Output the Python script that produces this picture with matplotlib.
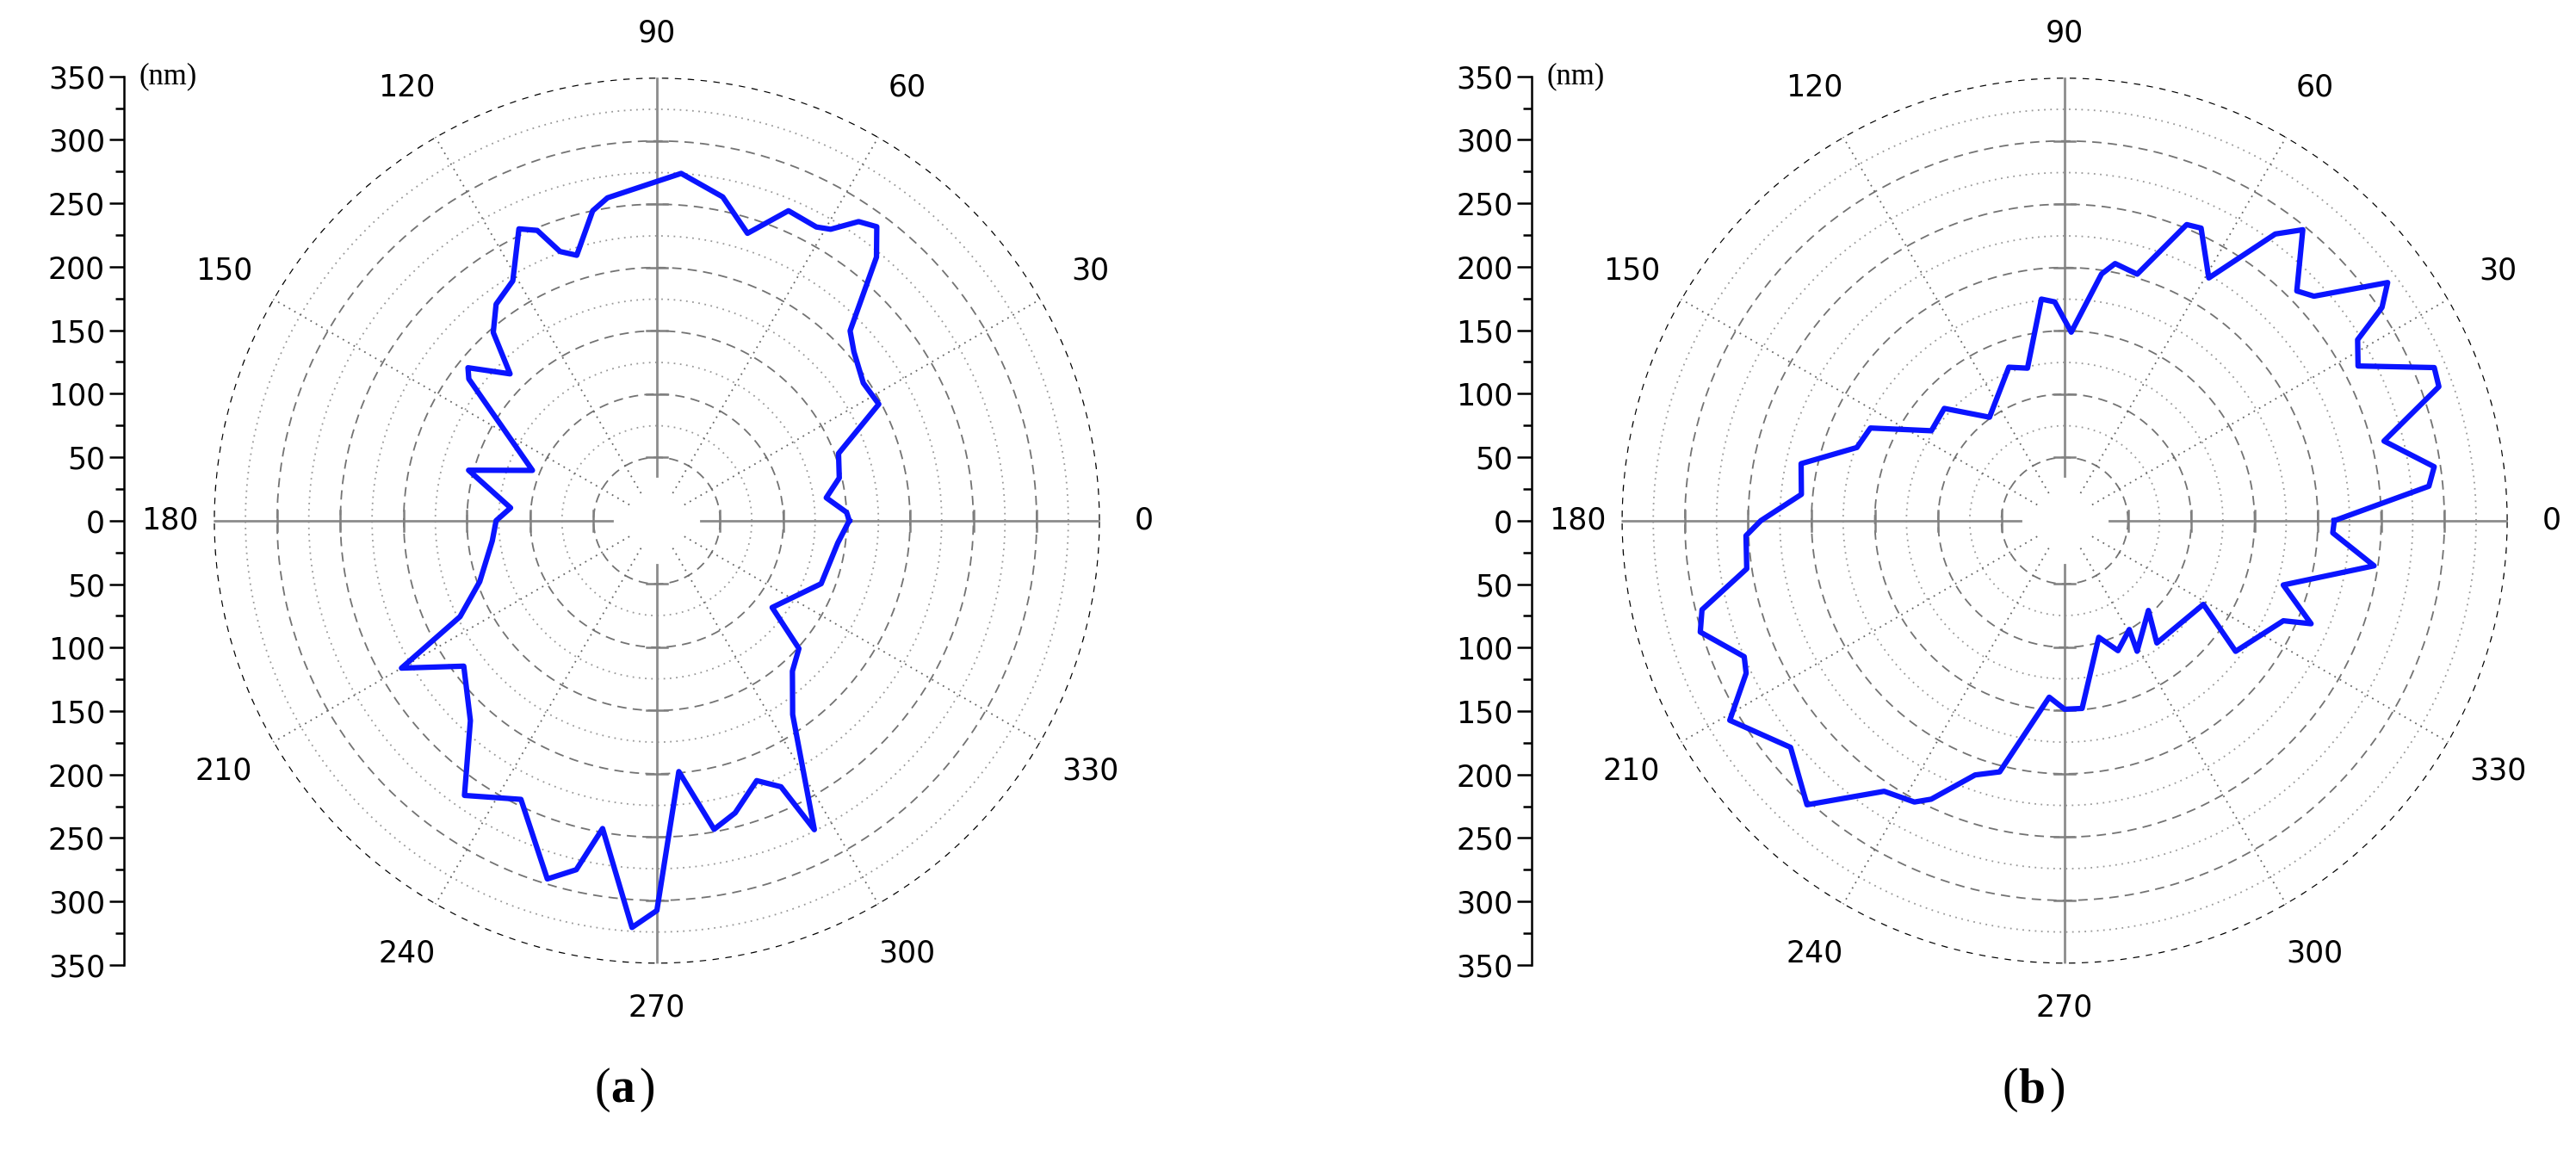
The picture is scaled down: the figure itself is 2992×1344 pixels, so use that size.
import numpy as np
import matplotlib
matplotlib.use("Agg")
import matplotlib.pyplot as plt

ang_a = [0, 2.5, 7.7, 13.2, 20.3, 27.7, 33.7, 40.6, 44.5, 50.2, 53.2, 56, 59.2, 61.5, 67, 72.5, 78.5, 86, 90,
         98.7, 101.7, 106.8, 109.8, 112.4, 115.3, 121, 126.6, 131, 135, 141, 143, 158, 165, 175, 180,
         187, 199, 206, 210, 217, 227, 235, 244, 253, 257, 260, 266.5, 270, 275, 280.5,
         285, 291, 295, 297, 305, 312, 318, 323, 339, 353, 360]
r_a = [152, 150, 135, 148, 153, 198, 196, 205, 214, 271, 290, 285, 268, 264, 266, 238, 261, 275, 268,
       258, 250, 219, 226, 248, 255, 221, 213, 197, 164, 192, 186, 106, 154, 116, 127,
       131, 148, 173, 233, 191, 216, 265, 245, 296, 283, 247, 322, 308, 199, 248,
       239, 220, 232, 274, 187, 160, 151, 114, 139, 144, 152]

ang_b = [0, 5.4, 8.3, 14, 19.7, 22.5, 27.8, 31.7, 33.9, 36.4, 42, 44.7, 50.7, 53.7, 59.3, 65, 67.6, 73.6, 78.9,
         81.5, 88, 92.6, 96, 103.7, 110, 126, 137, 146, 154.5, 160.6, 167.8, 174.3, 180, 182.7, 188.6, 193.8,
         197, 203, 205.6, 210.8, 219.6, 227.8, 236.3, 241.9, 244.4, 250.6, 255.5, 265, 270, 275.3, 286.3,
         292.3, 300.7, 299, 313, 307, 328.9, 322.6, 335.4, 337.3, 343.6, 351.7, 357.4, 360]
r_b = [213, 289, 295, 260, 314, 316, 262, 272, 302, 317, 265, 258, 297, 281, 223, 255, 253, 203, 207,
       197, 149, 173, 176, 124, 129, 101, 130, 127, 170, 174, 213, 209, 240, 252, 254, 295,
       301, 275, 279, 308, 281, 303, 257, 252, 244, 213, 205, 140, 149, 149, 96,
       111, 100, 118, 97, 121, 128, 170, 190, 211, 180, 247, 212, 213]

ang_labels = [0, 30, 60, 90, 120, 150, 180, 210, 240, 270, 300, 330]
r_ticks = [0, 50, 100, 150, 200, 250, 300, 350]

W, H = 29.92, 13.44
fig = plt.figure(figsize=(W, H), dpi=100)
FS = 25

def panel(cx, angs, rs, letter):
    rw = 0.172
    rh = 0.384
    cy = 0.55
    ax = fig.add_axes([cx - rw, cy - rh, 2 * rw, 2 * rh], projection='polar')
    ax.set_ylim(0, 350)
    ax.grid(False)
    ax.set_xticks([]); ax.set_yticks([])
    ax.spines['polar'].set_visible(False)
    ax.patch.set_alpha(0)
    th = np.linspace(0, 2 * np.pi, 400)
    for rr in range(50, 350, 25):
        ls = (0, (6, 4)) if rr % 50 == 0 else (0, (1, 3))
        col = '0.45' if rr % 50 == 0 else '0.6'
        ax.plot(th, np.full_like(th, rr), color=col, lw=1.3, ls=ls)
    ax.plot(th, np.full_like(th, 350), color='black', lw=1.8, ls=(0, (3, 3)))
    for a in range(0, 360, 30):
        if a % 90 == 0:
            continue
        ax.plot([np.deg2rad(a)] * 2, [25, 350], color='0.4', lw=1.3, ls=(0, (1, 3)))
    for a in range(0, 360, 90):
        ax.plot([np.deg2rad(a)] * 2, [35, 350], color='0.55', lw=2)
        for rr in range(50, 350, 50):
            t = np.deg2rad(a)
            x, y = rr * np.cos(t), rr * np.sin(t)
            px, py = -np.sin(t) * 8, np.cos(t) * 8
            xs = np.array([x - px, x + px]); ys = np.array([y - py, y + py])
            ax.plot(np.arctan2(ys, xs), np.hypot(xs, ys), color='0.5', lw=1.8)
    ax.plot(np.deg2rad(angs), rs, color='#0a14ff', lw=4.5, zorder=5)
    for a in ang_labels:
        t = np.deg2rad(a)
        rad = 395 if a % 90 else 385
        ax.text(t, rad, str(a), ha='center', va='center', fontsize=FS, clip_on=False)
    lx = cx - 0.207
    la = fig.add_axes([lx, cy - rh, 0.001, 2 * rh])
    la.set_ylim(-350, 350)
    la.set_xticks([])
    la.set_yticks([-v for v in r_ticks[::-1]] + r_ticks[1:])
    la.set_yticklabels([str(v) for v in r_ticks[::-1]] + [str(v) for v in r_ticks[1:]], fontsize=FS)
    la.set_yticks(np.arange(-325, 350, 50), minor=True)
    la.tick_params(axis='y', which='major', length=12, width=1.8)
    la.tick_params(axis='y', which='minor', length=7, width=1.8)
    for s in ['top', 'right', 'bottom']:
        la.spines[s].set_visible(False)
    la.spines['left'].set_linewidth(1.8)
    fig.text(lx + 0.006, cy + rh, '(nm)', fontsize=FS, family='Liberation Serif', va='center')
    fig.text(cx - 0.018, 0.058, '(', fontsize=40, family='Liberation Serif', ha='right', va='center')
    fig.text(cx - 0.018, 0.058, letter, fontsize=40, family='Liberation Serif', weight='bold', ha='left', va='center')
    fig.text(cx - 0.018 + (0.0110 if letter == 'a' else 0.0120), 0.058, ')', fontsize=40, family='Liberation Serif', ha='left', va='center')

panel(0.255, ang_a, r_a, 'a')
panel(0.8015, ang_b, r_b, 'b')
fig.savefig('out.png', dpi=100)
